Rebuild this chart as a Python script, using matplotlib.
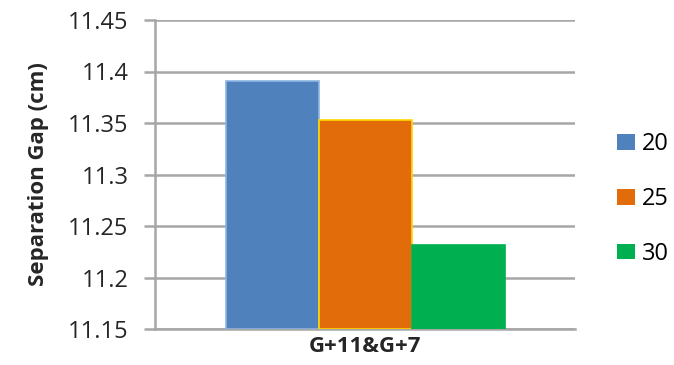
import matplotlib
matplotlib.use("Agg")
import matplotlib.pyplot as plt
from matplotlib.patches import Patch

category = ["G+11&G+7"]
series_labels = ["20", "25", "30"]
values = [11.391, 11.353, 11.232]
colors = ["#4f81bd", "#e36c0a", "#00b050"]
edges = ["#8eb4e3", "#ffd700", "#00b050"]
yticks = [11.15, 11.2, 11.25, 11.3, 11.35, 11.4, 11.45]
ytick_labels = ["11.15", "11.2", "11.25", "11.3", "11.35", "11.4", "11.45"]

plt.rcParams['font.family'] = ['Open Sans', 'DejaVu Sans']

fig = plt.figure(figsize=(6.74, 3.65), dpi=100)
ax = fig.add_axes([155/674, 1-329/365, 420/674, 309/365])

w = 93/420
offsets = [-w, 0, w]
for v, c, e, o, lab in zip(values, colors, edges, offsets, series_labels):
    ax.bar(0 + o, v - yticks[0], bottom=yticks[0], width=w, color=c,
           edgecolor=e, linewidth=1.2, label=lab, zorder=3)

ax.set_xlim(-0.5, 0.5)
ax.set_ylim(yticks[0], yticks[-1])
ax.set_yticks(yticks)
ax.set_yticklabels(ytick_labels, fontsize=17, color="#262626")
ax.set_xticks([0])
ax.set_xticklabels(category, fontsize=16, fontweight="bold", color="#262626")
ax.tick_params(axis='x', length=0, pad=5)
ax.tick_params(axis='y', length=8, width=1.8, color="#a6a6a6", pad=11)
ax.grid(axis='y', color="#a6a6a6", linewidth=1.8, zorder=0)
for s in ["top", "right"]:
    ax.spines[s].set_visible(False)
ax.spines["left"].set_color("#a6a6a6")
ax.spines["left"].set_linewidth(1.8)
ax.spines["bottom"].set_color("#a6a6a6")
ax.spines["bottom"].set_linewidth(1.8)
ax.set_ylabel("Separation Gap (cm)", fontsize=16, fontweight="bold", color="#262626", labelpad=14)

handles = [Patch(facecolor=c, edgecolor='none', label=l) for c, l in zip(colors, series_labels)]
fig.legend(handles=handles, loc='center left', bbox_to_anchor=(617/674, 1-199/365),
           frameon=False, fontsize=17, handlelength=0.75, handleheight=0.65,
           handletextpad=0.3, labelspacing=1.3, borderpad=0, borderaxespad=0)

fig.savefig("out.png", dpi=100)
